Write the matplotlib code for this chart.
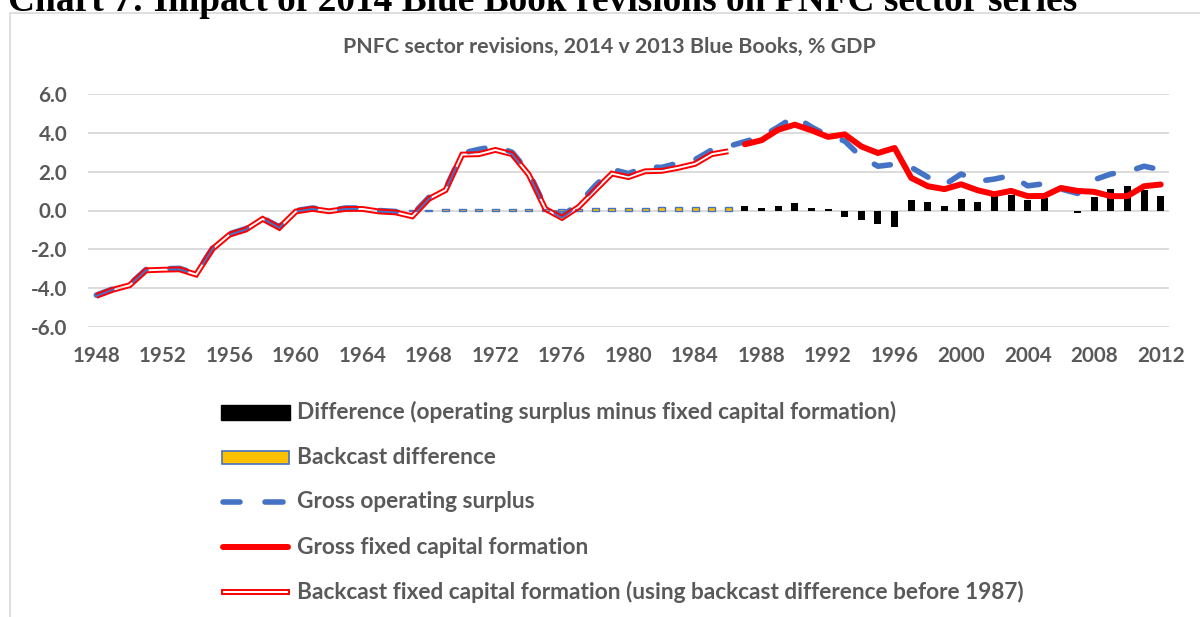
import matplotlib
matplotlib.use("Agg")
import matplotlib.pyplot as plt
from matplotlib.lines import Line2D
from matplotlib.patches import Rectangle
import numpy as np

# ---------------- data ----------------
years_backcast = list(range(1948, 1987))
years_new = list(range(1987, 2013))
years_all = list(range(1948, 2013))

gross_operating_surplus = [
    -4.36, -4.03, -3.80, -3.03, -3.00, -2.98, -3.25, -1.92, -1.20, -0.93,
    -0.38, -0.84, 0.00, 0.13, 0.01, 0.13, 0.13, 0.00, -0.05, -0.22,
    0.68, 1.12, 2.95, 3.15, 3.30, 3.00, 1.98, 0.18, -0.28, 0.35,
    1.28, 2.12, 1.90, 2.25, 2.22, 2.45, 2.62, 3.12, 3.30, 3.55,
    3.80, 4.30, 4.85, 4.30, 3.85, 3.58, 2.75, 2.28, 2.38, 2.22,
    1.72, 1.32, 1.88, 1.50, 1.62, 1.80, 1.27, 1.38, 1.11, 0.88,
    1.58, 1.88, 2.00, 2.28, 2.10,
]

gross_fixed_capital_formation = [
    3.41, 3.62, 4.16, 4.42, 4.13, 3.79, 3.92, 3.30, 2.96, 3.22,
    1.68, 1.25, 1.10, 1.35, 1.04, 0.84, 1.01, 0.74, 0.75, 1.16,
    1.01, 0.96, 0.74, 0.74, 1.25, 1.34,
]

difference = [
    0.24, 0.14, 0.22, 0.41, 0.15, 0.07, -0.32, -0.51, -0.68, -0.84,
    0.55, 0.45, 0.22, 0.58, 0.45, 0.79, 0.82, 0.53, 0.65, -0.04,
    -0.12, 0.67, 1.13, 1.25, 1.08, 0.75,
]

backcast_fixed_capital_formation = [
    -4.40, -4.08, -3.85, -3.08, -3.05, -3.03, -3.30, -1.97, -1.25, -0.98,
    -0.43, -0.89, -0.05, 0.08, -0.04, 0.08, 0.08, -0.05, -0.10, -0.30,
    0.60, 1.05, 2.88, 2.90, 3.12, 2.90, 1.85, 0.08, -0.38, 0.18,
    1.05, 1.90, 1.72, 2.02, 2.04, 2.20, 2.40, 2.90, 3.05,
]

backcast_difference = [
    None, None, None, None, None, None, None, None, None, None,
    None, None, None, None, None, None, None, None, 0.04, 0.05,
    0.05, 0.06, 0.06, 0.06, 0.07, 0.07, 0.07, 0.08, 0.08, 0.10,
    0.13, 0.14, 0.14, 0.15, 0.16, 0.16, 0.17, 0.17, 0.20,
]

x_tick_labels = [str(y) for y in range(1948, 2013, 4)]
y_ticks = [-6, -4, -2, 0, 2, 4, 6]

heading = "Chart 7: Impact of 2014 Blue Book revisions on PNFC sector series"
chart_title = "PNFC sector revisions, 2014 v 2013 Blue Books, % GDP"
legend_labels = [
    "Difference (operating surplus minus fixed capital formation)",
    "Backcast difference",
    "Gross operating surplus",
    "Gross fixed capital formation",
    "Backcast fixed capital formation (using backcast difference before 1987)",
]

# ---------------- style ----------------
W, H = 1200, 617
GRAY_TXT = "#595959"
BLUE = "#4472C4"
ORANGE = "#FFC000"
RED = "#FF0000"
GRID = "#D9D9D9"
SANS = "Lato"

fig = plt.figure(figsize=(W / 100, H / 100), dpi=100)
renderer = fig.canvas.get_renderer()


def fx(x):
    return x / W


def fy(y):
    return 1 - y / H


def fit_text(x, y, s, width_px, **kw):
    t = fig.text(fx(x), fy(y), s, **kw)
    fs = t.get_fontsize()
    w = t.get_window_extent(renderer).width
    t.set_fontsize(fs * width_px / w)
    return t


# outer chart border
fig.add_artist(Rectangle((fx(10), fy(700)), 2.0, fy(13) - fy(700),
                         transform=fig.transFigure, fill=False,
                         edgecolor=GRID, linewidth=1.2, zorder=0))

# heading (cropped at the top, as in the source page)
fit_text(8, 11, heading, 1070, family="Liberation Serif", weight="bold",
         color="black", fontsize=24, ha="left", va="baseline")

# chart title
fit_text(609, 47, chart_title, 535, family=SANS, weight="bold",
         color=GRAY_TXT, fontsize=14, ha="center", va="center")

# ---------------- axes ----------------
ax = fig.add_axes([fx(88), fy(327), (1169 - 88) / W, (327 - 94) / H])
ax.set_xlim(1947.5, 2012.5)
ax.set_ylim(-6, 6)
for s in ax.spines.values():
    s.set_visible(False)
ax.set_yticks(y_ticks)
ax.set_yticklabels([f"{v:.1f}" for v in y_ticks])
ax.set_xticks(list(range(1948, 2013, 4)))
ax.set_xticklabels(x_tick_labels)
ax.grid(axis="y", color=GRID, linewidth=1.3)
ax.set_axisbelow(True)

probe = fig.text(0, 0, "1948", family=SANS, weight="bold", fontsize=14)
tick_fs = 14 * 48 / probe.get_window_extent(renderer).width
probe.remove()
ax.tick_params(axis="both", length=0, labelsize=tick_fs, labelcolor=GRAY_TXT)
ax.tick_params(axis="y", pad=15)
ax.tick_params(axis="x", pad=14)
for lab in ax.get_xticklabels() + ax.get_yticklabels():
    lab.set_family(SANS)
    lab.set_weight("bold")

bar_w = 0.42
ax.bar(years_new, difference, width=bar_w, color="black", zorder=2)
ax.bar(years_backcast, np.array(backcast_difference, dtype=float), width=bar_w,
       color=ORANGE, edgecolor=BLUE, linewidth=1.0, zorder=2)

ax.plot(years_all, gross_operating_surplus, color=BLUE, linewidth=4.0,
        linestyle=(0, (3.0, 4.3)), dash_capstyle="round",
        solid_capstyle="round", zorder=3)
ax.plot(years_new, gross_fixed_capital_formation, color=RED, linewidth=4.3,
        solid_capstyle="round", solid_joinstyle="round", zorder=4)


def offset_line(xs, ys, d_px):
    """Offset a polyline perpendicular to itself by d_px display pixels."""
    P = ax.transData.transform(np.column_stack([xs, ys]).astype(float))
    seg = P[1:] - P[:-1]
    t = seg / np.hypot(seg[:, 0], seg[:, 1])[:, None]
    nrm = np.column_stack([-t[:, 1], t[:, 0]])
    out = []
    for i in range(len(P)):
        if i == 0:
            m, s = nrm[0], 1.0
        elif i == len(P) - 1:
            m, s = nrm[-1], 1.0
        else:
            m = nrm[i - 1] + nrm[i]
            m = m / np.linalg.norm(m)
            s = 1.0 / max(np.dot(m, nrm[i]), 0.35)
        out.append(P[i] + m * d_px * s)
    return ax.transData.inverted().transform(np.array(out))


# backcast: Excel "double" compound line (transparent gap between two strokes)
for d in (1.95, -1.95):
    q = offset_line(years_backcast, backcast_fixed_capital_formation, d)
    ax.plot(q[:, 0], q[:, 1], color=RED, linewidth=1.4,
            solid_joinstyle="miter", solid_capstyle="butt", zorder=5)

# ---------------- legend (drawn in figure pixels) ----------------
rows = [412, 457, 502, 547, 592]
hx0, hx1 = 221, 290
fig.add_artist(Rectangle((fx(hx0), fy(rows[0] + 7.5)), (hx1 - hx0) / W, 15 / H,
                         transform=fig.transFigure, color="black"))
fig.add_artist(Rectangle((fx(hx0 + 1), fy(rows[1] + 6.5)), (hx1 - hx0 - 2) / W, 13 / H,
                         transform=fig.transFigure, facecolor=ORANGE,
                         edgecolor=BLUE, linewidth=1.2))
for a, b in [(223, 240), (265, 283)]:
    fig.add_artist(Line2D([fx(a), fx(b)], [fy(rows[2]), fy(rows[2])],
                          transform=fig.transFigure, color=BLUE, linewidth=4.0,
                          solid_capstyle="round"))
fig.add_artist(Line2D([fx(hx0 + 2), fx(hx1 - 2)], [fy(rows[3]), fy(rows[3])],
                      transform=fig.transFigure, color=RED, linewidth=4.3,
                      solid_capstyle="round"))
for d in (1.95, -1.95):
    fig.add_artist(Line2D([fx(hx0 + 1), fx(hx1 - 1)],
                          [fy(rows[4] + d), fy(rows[4] + d)],
                          transform=fig.transFigure, color=RED, linewidth=1.4,
                          solid_capstyle="round"))
for xe in (hx0 + 1, hx1 - 1):
    fig.add_artist(Line2D([fx(xe), fx(xe)], [fy(rows[4] - 1.95), fy(rows[4] + 1.95)],
                          transform=fig.transFigure, color=RED, linewidth=1.4,
                          solid_capstyle="round"))

first = fit_text(297, rows[0], legend_labels[0], 602, family=SANS,
                 weight="bold", color=GRAY_TXT, fontsize=14,
                 ha="left", va="center")
leg_fs = first.get_fontsize()
for r, lab in zip(rows[1:], legend_labels[1:]):
    fig.text(fx(297), fy(r), lab, family=SANS, weight="bold", color=GRAY_TXT,
             fontsize=leg_fs, ha="left", va="center")

fig.savefig("out.png", dpi=100)
